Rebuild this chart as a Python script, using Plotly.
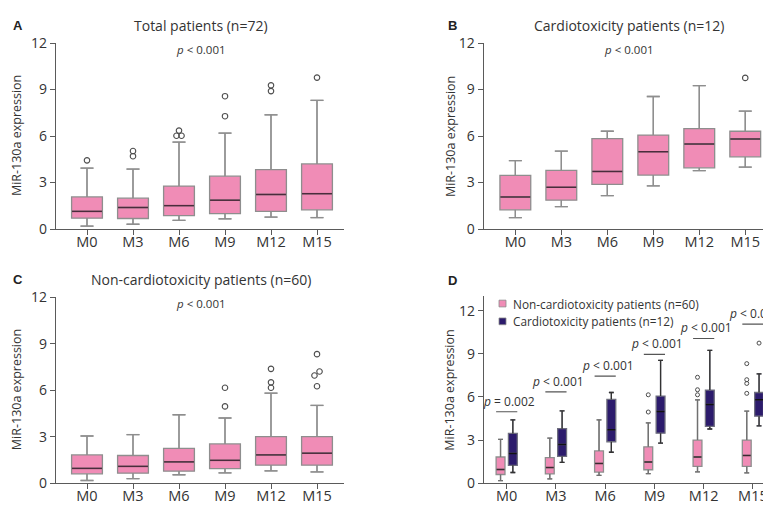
import plotly.graph_objects as go

# ---------------- data ----------------
months = ["M0", "M3", "M6", "M9", "M12", "M15"]

# Panel A: Total patients (n=72)
total_low = [0.19, 0.31, 0.56, 0.66, 0.77, 0.74]
total_q1 = [0.70, 0.68, 0.87, 0.99, 1.14, 1.24]
total_med = [1.14, 1.39, 1.51, 1.86, 2.23, 2.28]
total_q3 = [2.07, 1.99, 2.77, 3.41, 3.83, 4.20]
total_high = [3.93, 3.87, 5.61, 6.19, 7.37, 8.30]
total_out = [[4.43], [4.70, 5.03], [6.02, 6.02, 6.35], [7.28, 8.57], [8.90, 9.27], [9.77]]

# Panel B: Cardiotoxicity patients (n=12)
cardio_low = [0.74, 1.45, 2.15, 2.79, 3.77, 3.99]
cardio_q1 = [1.24, 1.86, 2.88, 3.48, 3.95, 4.66]
cardio_med = [2.07, 2.69, 3.72, 4.99, 5.48, 5.81]
cardio_q3 = [3.46, 3.79, 5.83, 6.06, 6.48, 6.31]
cardio_high = [4.41, 5.03, 6.31, 8.55, 9.25, 7.61]
cardio_out = [[], [], [], [], [], [9.75]]

# Panel C: Non-cardiotoxicity patients (n=60)
non_low = [0.17, 0.29, 0.54, 0.66, 0.79, 0.72]
non_q1 = [0.60, 0.64, 0.77, 0.93, 1.16, 1.16]
non_med = [0.95, 1.08, 1.37, 1.47, 1.82, 1.93]
non_q3 = [1.82, 1.78, 2.24, 2.53, 3.00, 3.00]
non_high = [3.04, 3.13, 4.41, 4.20, 5.80, 5.01]
non_out = [[], [], [], [4.95, 6.15], [6.15, 6.50, 7.37], [6.25, 6.94, 7.20, 8.32]]

panel_titles = ["Total patients (n=72)", "Cardiotoxicity patients (n=12)",
                "Non-cardiotoxicity patients (n=60)"]
overall_p = ["< 0.001", "< 0.001", "< 0.001"]
between_p = ["= 0.002", "< 0.001", "< 0.001", "< 0.001", "< 0.001", "< 0.001"]
series_names = ["Non-cardiotoxicity patients (n=60)", "Cardiotoxicity patients (n=12)"]

# ---------------- style ----------------
W, H = 771, 505
PINK = "#F08CB6"
NAVY = "#2C1B6C"
BOXLINE = "#8E8E8E"
AXIS = "#5A5A5A"
TXT = "#333333"
MED = "#4A2C3C"
FONT = "Open Sans"

def px(x, y):
    return x / W, 1 - y / H

fig = go.Figure()

idx = list(range(len(months)))

def dodge(vals, thr=0.3, off=0.055):
    """Horizontal dodge for nearly coincident outliers."""
    s = sorted(vals)
    res = []
    i = 0
    while i < len(s):
        if i + 1 < len(s) and s[i + 1] - s[i] < thr:
            res.append((s[i], -off))
            res.append((s[i + 1], off))
            i += 2
        else:
            res.append((s[i], 0.0))
            i += 1
    return res

def add_boxes(xa, ya, pos, low, q1, med, q3, high, outs, fill, line, medc, wcol,
              width, whw, omark, ododge):
    fig.add_trace(go.Box(
        x=pos, q1=q1, median=med, q3=q3, lowerfence=low, upperfence=high,
        xaxis=xa, yaxis=ya, width=width, whiskerwidth=whw,
        fillcolor=fill, line=dict(color=line, width=1.3),
        boxpoints=False, showlegend=False, hoverinfo="skip"))
    wx, wy = [], []
    for p, lo, a, b, hi in zip(pos, low, q1, q3, high):
        cw = width * whw / 2
        wx += [p, p, None, p - cw, p + cw, None, p, p, None, p - cw, p + cw, None]
        wy += [lo, a, None, lo, lo, None, b, hi, None, hi, hi, None]
    fig.add_trace(go.Scatter(x=wx, y=wy, mode="lines", xaxis=xa, yaxis=ya,
                             line=dict(color=wcol, width=1.3), showlegend=False,
                             hoverinfo="skip"))
    mx, my = [], []
    for p, m in zip(pos, med):
        mx += [p - width / 2 + 0.01, p + width / 2 - 0.01, None]
        my += [m, m, None]
    fig.add_trace(go.Scatter(x=mx, y=my, mode="lines", xaxis=xa, yaxis=ya,
                             line=dict(color=medc, width=1.5), showlegend=False,
                             hoverinfo="skip"))
    ox, oy = [], []
    for p, vals in zip(pos, outs):
        if ododge:
            for v, o in dodge(vals):
                ox.append(p + o)
                oy.append(v)
        else:
            for v in vals:
                ox.append(p)
                oy.append(v)
    fig.add_trace(go.Scatter(x=ox, y=oy, mode="markers", xaxis=xa, yaxis=ya,
                             marker=omark, showlegend=False, hoverinfo="skip"))

omark_big = dict(symbol="circle-open", size=5.5, color="#4D4D4D", line=dict(width=1.1))
omark_small = dict(symbol="circle-open", size=4, color="#4D4D4D", line=dict(width=1))

add_boxes("x", "y", idx, total_low, total_q1, total_med, total_q3, total_high, total_out,
          PINK, BOXLINE, MED, BOXLINE, 0.67, 0.42, omark_big, True)
add_boxes("x2", "y2", idx, cardio_low, cardio_q1, cardio_med, cardio_q3, cardio_high, cardio_out,
          PINK, BOXLINE, MED, BOXLINE, 0.67, 0.42, omark_big, True)
add_boxes("x3", "y3", idx, non_low, non_q1, non_med, non_q3, non_high, non_out,
          PINK, BOXLINE, MED, BOXLINE, 0.67, 0.42, omark_big, True)

GOFF = 0.125
DW = 0.18
add_boxes("x4", "y4", [i - GOFF for i in idx], non_low, non_q1, non_med, non_q3, non_high, non_out,
          PINK, BOXLINE, "#3A2A30", "#707070", DW, 0.55, omark_small, False)
add_boxes("x4", "y4", [i + GOFF for i in idx], cardio_low, cardio_q1, cardio_med, cardio_q3,
          cardio_high, cardio_out, NAVY, "#6E6E7E", "#111111", "#333333", DW, 0.55,
          omark_small, False)

# ---------------- axes ----------------
def xax(domain, rng, anchor):
    return dict(domain=domain, range=rng, tickmode="array", tickvals=idx, ticktext=months,
                showline=True, linecolor=AXIS, linewidth=1.3, ticks="outside", ticklen=5,
                tickwidth=1.2, tickcolor=AXIS, showgrid=False, zeroline=False, anchor=anchor,
                ticklabelstandoff=-6,
                tickfont=dict(family=FONT, size=14.5, color=TXT), fixedrange=True)

def yax(domain, rng, anchor):
    return dict(domain=domain, range=rng, tickmode="array", tickvals=[0, 3, 6, 9, 12],
                showline=True, linecolor=AXIS, linewidth=1.3, ticks="outside", ticklen=5,
                tickwidth=1.2, tickcolor=AXIS, showgrid=False, zeroline=False, anchor=anchor,
                tickfont=dict(family=FONT, size=14, color=TXT), fixedrange=True)

yA = [1 - 219.3 / H, 1 - 26 / H]
yC = [1 - 483.3 / H, 1 - 290 / H]
yD = [1 - 483.3 / H, 1 - 289.3 / H]
xL = [48 / W, 336 / W]
xB = [475.7 / W, 763 / W]
xD = [476 / W, 1.0]

fig.update_layout(
    width=W, height=H, margin=dict(l=0, r=0, t=0, b=0),
    paper_bgcolor="white", plot_bgcolor="white",
    boxmode="overlay",
    xaxis=xax(xL, [-0.674, 5.587], "y"), yaxis=yax(yA, [0, 12], "x"),
    xaxis2=xax(xB, [-0.688, 5.56], "y2"), yaxis2=yax(yA, [0, 12], "x2"),
    xaxis3=xax(xL, [-0.674, 5.587], "y3"), yaxis3=yax(yC, [0, 12], "x3"),
    xaxis4=xax(xD, [-0.461, 5.53], "y4"), yaxis4=yax(yD, [0, 13], "x4"),
    font=dict(family=FONT, color=TXT),
)

ann = []
shapes = []

for letter, (lx, ly) in zip("ABCD", [(3, 8), (438, 8), (3, 272), (438, 273)]):
    x, y = px(lx, ly)
    ann.append(dict(text="<b>%s</b>" % letter, x=x, y=y, xref="paper", yref="paper",
                    xanchor="left", yanchor="middle", showarrow=False,
                    font=dict(family="Liberation Sans", size=13, color="#222")))

for t, (tx, ty) in zip(panel_titles, [(193, 8), (621, 8), (193, 272)]):
    x, y = px(tx, ty)
    ann.append(dict(text=t, x=x, y=y, xref="paper", yref="paper", xanchor="center",
                    yanchor="middle", showarrow=False, font=dict(family=FONT, size=14, color=TXT)))

for t, (tx, ty) in zip(overall_p, [(193, 33), (621, 33), (193, 297)]):
    x, y = px(tx, ty)
    ann.append(dict(text="<i>p</i> " + t.replace("<", "&lt;"), x=x, y=y, xref="paper",
                    yref="paper", xanchor="center", yanchor="middle", showarrow=False,
                    font=dict(family=FONT, size=11.5, color=TXT)))

for (tx, ty) in [(8, 122.7), (442, 122.7), (8, 386.7), (442, 386.2)]:
    x, y = px(tx, ty)
    ann.append(dict(text="MiR-130a expression", x=x, y=y, xref="paper", yref="paper",
                    xanchor="center", yanchor="middle", textangle=-90, showarrow=False,
                    font=dict(family=FONT, size=12.5, color=TXT)))

bracket_y = [4.97, 6.35, 7.45, 8.97, 10.07, 11.07]
for i, (t, by) in enumerate(zip(between_p, bracket_y)):
    shapes.append(dict(type="line", xref="x4", yref="y4",
                       x0=i - GOFF - DW / 2, x1=i + GOFF + DW / 2, y0=by, y1=by,
                       line=dict(color="#555555", width=1.2)))
    ann.append(dict(text="<i>p</i> " + t.replace("<", "&lt;"), x=i + 0.05, y=by,
                    xref="x4", yref="y4", xanchor="center", yanchor="bottom",
                    yshift=0, showarrow=False, font=dict(family=FONT, size=12, color=TXT)))

for name, col, cy in zip(series_names, [PINK, NAVY], [296.7, 315.2]):
    x0, y0 = px(491, cy - 3.5)
    x1, y1 = px(498, cy + 3.5)
    shapes.append(dict(type="rect", xref="paper", yref="paper", x0=x0, x1=x1, y0=y1, y1=y0,
                       fillcolor=col, line=dict(color="#8A8A8A", width=0.8)))
    tx, ty = px(502.5, cy)
    ann.append(dict(text=name, x=tx, y=ty, xref="paper", yref="paper", xanchor="left",
                    yanchor="middle", showarrow=False,
                    font=dict(family=FONT, size=11.8, color=TXT)))

fig.update_layout(annotations=ann, shapes=shapes)

fig.write_html("out.html")
